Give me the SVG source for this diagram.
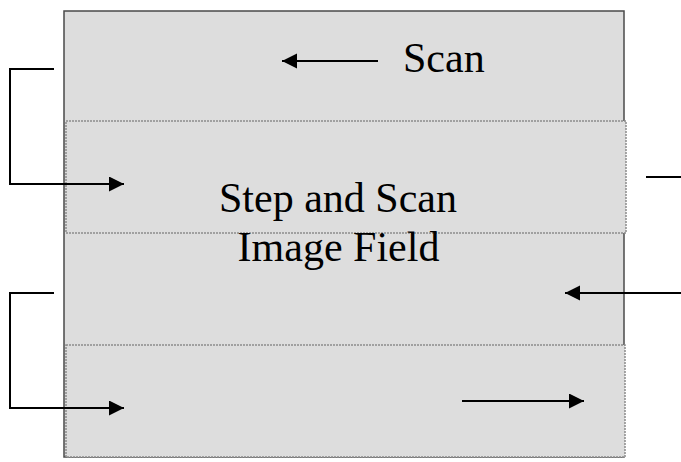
<svg xmlns="http://www.w3.org/2000/svg" width="681" height="462" viewBox="0 0 681 462">
  <style>
    .field { fill: #dddddd; stroke: #4a4a4a; stroke-width: 1.5; }
    .strip { fill: #dddddd; stroke: #8c8c8c; stroke-width: 1.5; stroke-dasharray: 2 1; }
    .wire { fill: none; stroke: #000; stroke-width: 2; }
    .label { font-family: "Liberation Serif", "Times New Roman", serif; font-size: 42px; fill: #000; }
  </style>
  <defs>
    <marker id="head" markerUnits="userSpaceOnUse" markerWidth="16" markerHeight="16" refX="15" refY="7.5" orient="auto">
      <path d="M0,0 L15,7.5 L0,15 Z" fill="#000"/>
    </marker>
  </defs>

  <g id="image-field">
    <rect class="field" x="64" y="11" width="560" height="446"/>
  </g>
  <g id="scan-strip-1">
    <rect class="strip" x="66" y="121" width="560" height="112"/>
  </g>
  <g id="scan-strip-2">
    <rect class="strip" x="66" y="345" width="559" height="112"/>
  </g>

  <g id="labels">
    <text class="label" x="403" y="71.5">Scan</text>
    <text class="label" x="338" y="211.5" text-anchor="middle">Step and Scan</text>
    <text class="label" x="338.5" y="261" text-anchor="middle">Image Field</text>
  </g>

  <g id="connectors">
    <!-- scan direction, top -->
    <line class="wire" x1="378" y1="61" x2="282" y2="61" marker-end="url(#head)"/>
    <!-- step returns on the left -->
    <path class="wire" d="M54,69 H10 V184 H124" marker-end="url(#head)"/>
    <path class="wire" d="M54,293 H10 V408 H124" marker-end="url(#head)"/>
    <!-- right side strokes -->
    <line class="wire" x1="646" y1="177" x2="681" y2="177"/>
    <line class="wire" x1="681" y1="293" x2="565" y2="293" marker-end="url(#head)"/>
    <!-- scan direction, bottom strip -->
    <line class="wire" x1="462" y1="401" x2="584" y2="401" marker-end="url(#head)"/>
  </g>
</svg>
